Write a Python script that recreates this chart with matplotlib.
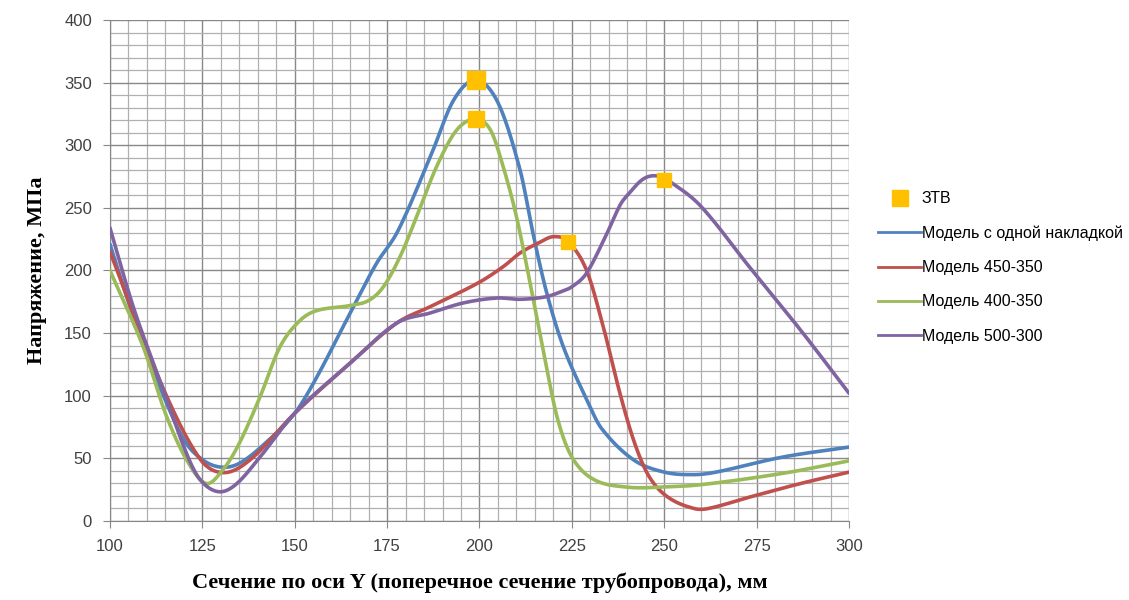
import numpy as np
import matplotlib
matplotlib.use("Agg")
from matplotlib import pyplot as plt
from matplotlib.ticker import MultipleLocator
from matplotlib.lines import Line2D

blue_x = [100, 106, 113.5, 120, 125, 130, 135, 142, 150, 156, 165, 172, 178, 187, 193, 199,
          205, 211, 214.6, 218.2, 222.7, 229, 233, 241.6, 250, 258, 264, 282, 300]
blue_y = [221, 166, 107, 65, 49, 43, 46, 62, 86, 115, 166, 205, 232, 293, 336, 352,
          334, 280, 228, 182, 139, 97, 74, 49, 39, 37, 39, 51, 59]

red_x = [100, 113.5, 124, 130.6, 138, 150, 165, 177.6, 186.6, 199.6, 206.4, 211, 216, 220, 224,
         229, 233.5, 238, 242, 246, 251, 258, 262, 273, 287, 300]
red_y = [215, 112, 51, 38.6, 49, 86, 126, 158, 171, 190, 203, 214, 222, 227, 223,
         200, 155, 102, 62, 35, 19, 10, 10, 19, 30, 39]

green_x = [100, 109, 115, 120.7, 126, 130.6, 135, 140.6, 146, 151.4, 156, 165, 170, 174, 178.5,
           183, 188.4, 193.8, 199, 203, 206.4, 210, 213.7, 217.2, 221, 225, 231, 240, 249, 260,
           282, 300]
green_y = [200, 139, 86, 49, 30, 41, 62, 99, 139, 160, 168, 172, 176, 187, 211,
           243, 283, 312, 321, 312, 283, 243, 190, 137, 83, 51, 33, 27, 27, 29,
           38, 48]

purple_x = [100, 106.3, 113.5, 120.7, 124.4, 129.3, 134, 140.6, 150, 165, 177.6, 186.6, 195.5,
            204.6, 211, 218, 222, 225, 229, 234.4, 238, 240, 244.3, 248, 252, 260, 273, 287, 300]
purple_y = [234, 171, 112, 54, 33, 23.4, 29, 51, 86, 126, 158, 166, 174,
            178, 177, 179, 183, 187, 198, 229, 252, 260, 273, 275.5, 270, 251, 203, 152, 102]

ztv_x = [199, 199, 224, 250]
ztv_y = [352, 321, 223, 272]

labels = ['Модель с одной накладкой', 'Модель 450-350', 'Модель 400-350', 'Модель 500-300']
colors = ['#4F81BD', '#C0504D', '#9BBB59', '#8064A2']


def smooth(xs, ys, n=20):
    # кубический Эрмит по x, касательные по соседним точкам
    x = np.asarray(xs, float)
    y = np.asarray(ys, float)
    m = np.empty_like(y)
    m[1:-1] = (y[2:] - y[:-2]) / (x[2:] - x[:-2])
    m[0] = (y[1] - y[0]) / (x[1] - x[0])
    m[-1] = (y[-1] - y[-2]) / (x[-1] - x[-2])
    px, py = [], []
    for i in range(len(x) - 1):
        h = x[i + 1] - x[i]
        t = np.linspace(0, 1, n, endpoint=False)
        h00 = 2 * t ** 3 - 3 * t ** 2 + 1
        h10 = t ** 3 - 2 * t ** 2 + t
        h01 = -2 * t ** 3 + 3 * t ** 2
        h11 = t ** 3 - t ** 2
        px.append(x[i] + t * h)
        py.append(h00 * y[i] + h10 * h * m[i] + h01 * y[i + 1] + h11 * h * m[i + 1])
    px.append([x[-1]])
    py.append([y[-1]])
    return np.concatenate(px), np.concatenate(py)


fig = plt.figure(figsize=(11.29, 6), dpi=100)
ax = fig.add_axes([0.0974, 0.1317, 0.6546, 0.835])

series = [(blue_x, blue_y), (red_x, red_y), (green_x, green_y), (purple_x, purple_y)]
for (xs, ys), c in zip(series, colors):
    sx, sy = smooth(xs, ys)
    ax.plot(sx, sy, color=c, lw=2.6, solid_capstyle='round', zorder=3)

sizes = [13, 12, 10, 10]
for x, y, s in zip(ztv_x, ztv_y, sizes):
    ax.plot(x, y, 's', color='#FFC000', ms=s, zorder=4)

ax.set_xlim(100, 300)
ax.set_ylim(0, 400)
ax.xaxis.set_major_locator(MultipleLocator(25))
ax.xaxis.set_minor_locator(MultipleLocator(5))
ax.yaxis.set_major_locator(MultipleLocator(50))
ax.yaxis.set_minor_locator(MultipleLocator(10))
ax.grid(which='major', color='#888888', lw=1.0)
ax.grid(which='minor', color='#b0b0b0', lw=0.9)
ax.set_axisbelow(True)
ax.tick_params(which='minor', length=0)
ax.tick_params(which='major', direction='out', length=5, color='#888888',
               labelsize=12, labelcolor='#404040', pad=8)
for lbl in ax.get_xticklabels() + ax.get_yticklabels():
    lbl.set_family('Liberation Sans')
for sp in ['top', 'right']:
    ax.spines[sp].set_visible(False)
for sp in ['left', 'bottom']:
    ax.spines[sp].set_color('#888888')

ax.set_ylabel('Напряжение, МПа', family='Liberation Serif', fontweight='bold', fontsize=16,
              labelpad=12)
fig.text(0.425, 0.02, 'Сечение по оси Y (поперечное сечение трубопровода), мм',
         family='Liberation Serif', fontweight='bold', fontsize=16, ha='center')

handles = [Line2D([], [], ls='none', marker='s', color='#FFC000', ms=12)]
handles += [Line2D([], [], color=c, lw=2) for c in colors]
fig.legend(handles, ['ЗТВ'] + labels, loc='upper left', bbox_to_anchor=(0.765, 0.705),
           frameon=False, prop={'family': 'Liberation Sans', 'size': 11.5},
           handlelength=2.7, handletextpad=0.05, labelspacing=1.2)

fig.savefig('out.png', dpi=100)
